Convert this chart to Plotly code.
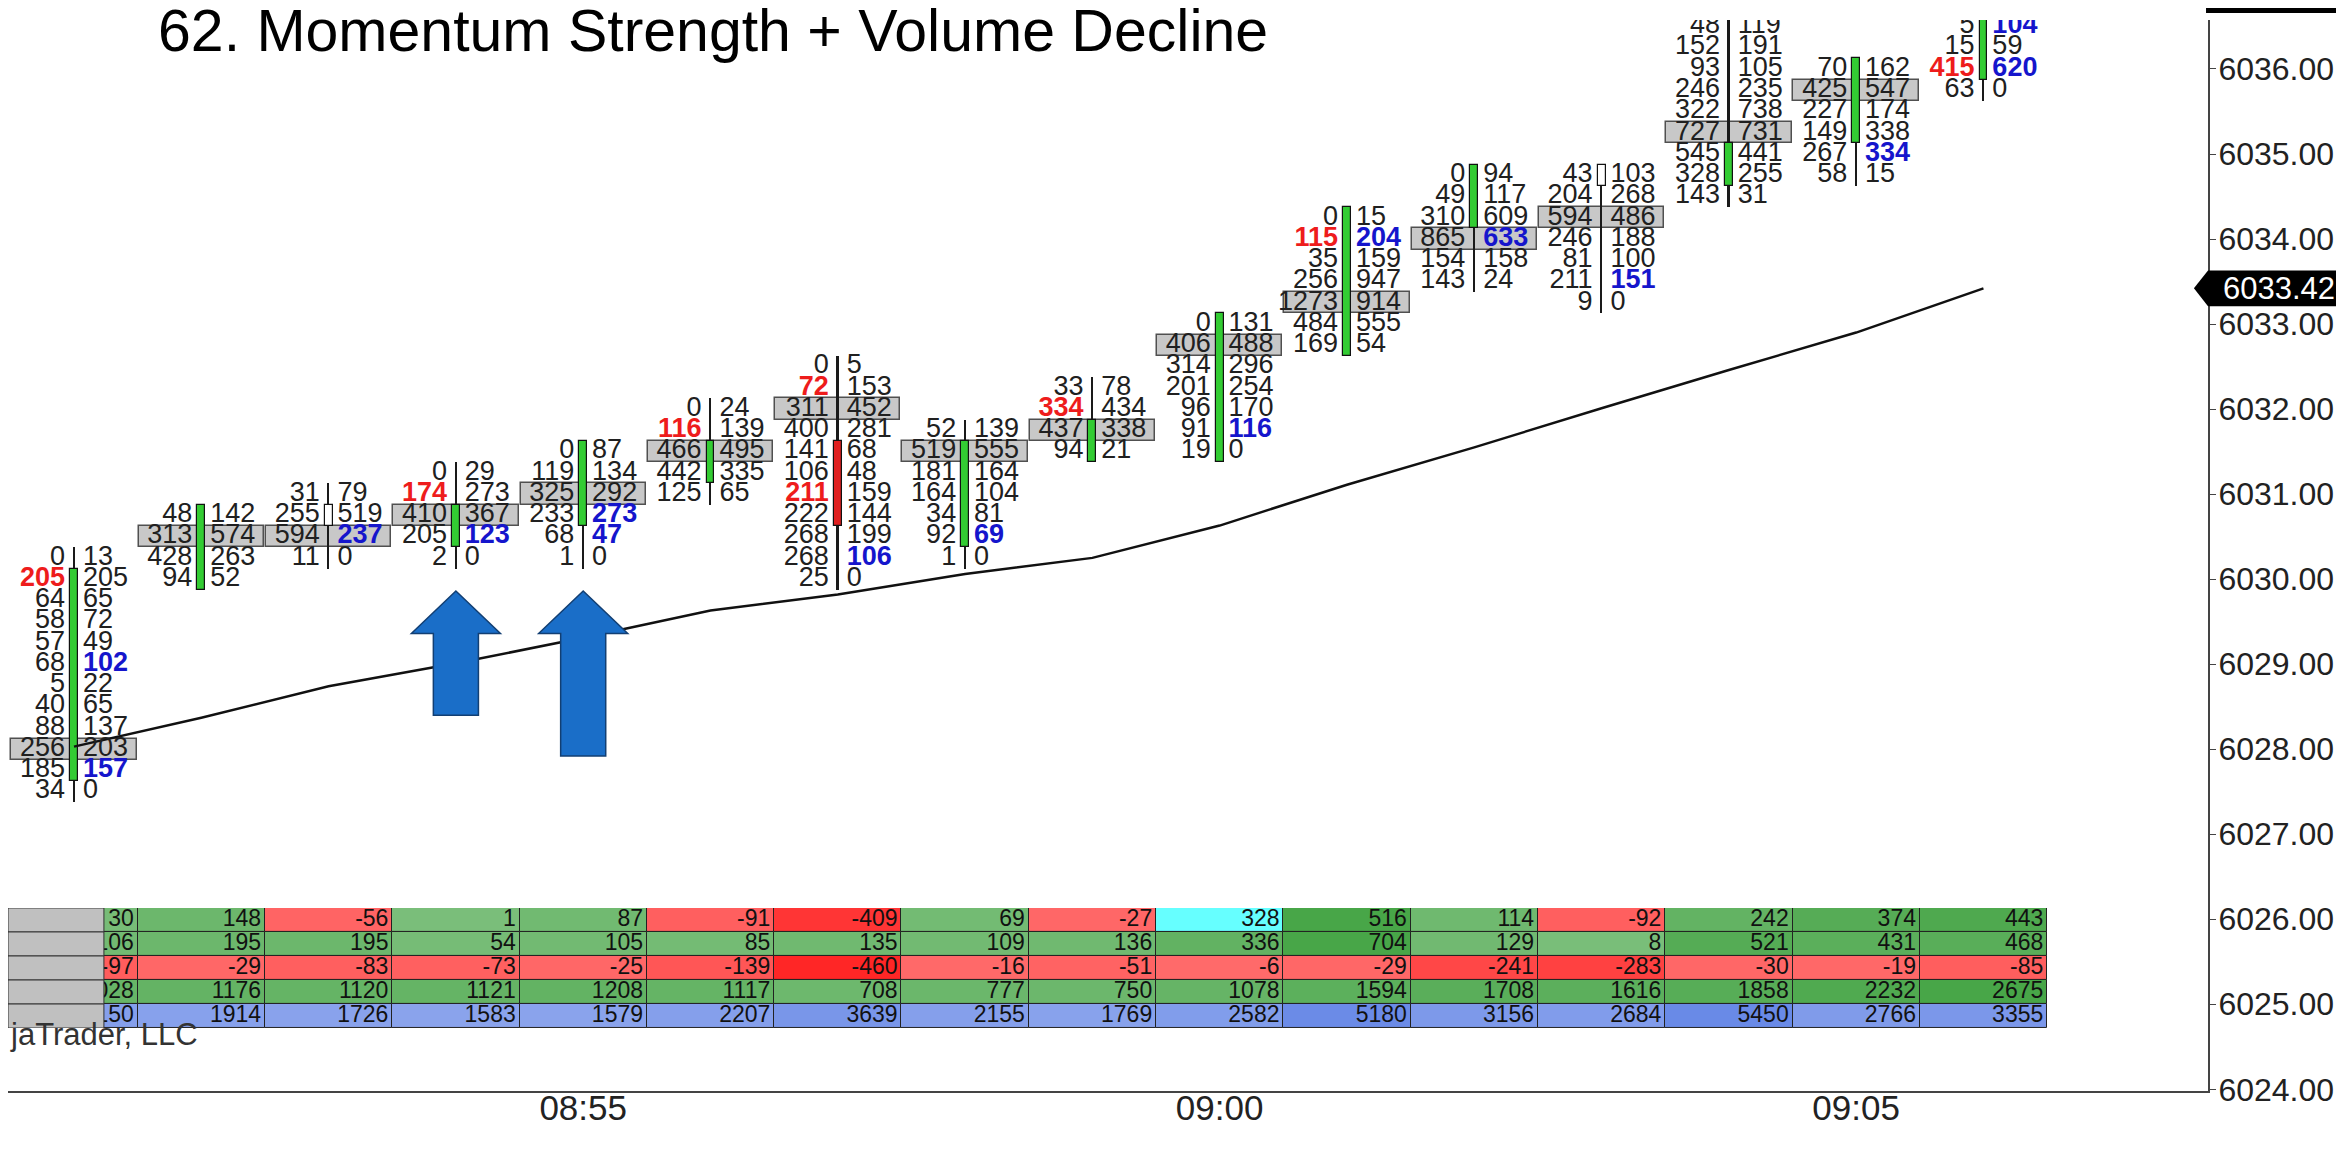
import plotly.graph_objects as go

TICK = 0.25
FONT = "Arial, Liberation Sans, sans-serif"

times = ["08:51", "08:52", "08:53", "08:54", "08:55", "08:56", "08:57", "08:58",
         "08:59", "09:00", "09:01", "09:02", "09:03", "09:04", "09:05", "09:06"]

# footprint: highest visible price row per bar, then bid / ask volume per row (top down)
top_price = [6030.25, 6030.75, 6031.00, 6031.25, 6031.50, 6032.00, 6032.50, 6031.75,
             6032.25, 6033.00, 6034.25, 6034.75, 6034.75, 6036.50, 6036.00, 6036.50]
bids = [
    [0, 205, 64, 58, 57, 68, 5, 40, 88, 256, 185, 34],
    [48, 313, 428, 94],
    [31, 255, 594, 11],
    [0, 174, 410, 205, 2],
    [0, 119, 325, 233, 68, 1],
    [0, 116, 466, 442, 125],
    [0, 72, 311, 400, 141, 106, 211, 222, 268, 268, 25],
    [52, 519, 181, 164, 34, 92, 1],
    [33, 334, 437, 94],
    [0, 406, 314, 201, 96, 91, 19],
    [0, 115, 35, 256, 1273, 484, 169],
    [0, 49, 310, 865, 154, 143],
    [43, 204, 594, 246, 81, 211, 9],
    [48, 152, 93, 246, 322, 727, 545, 328, 143],
    [70, 425, 227, 149, 267, 58],
    [5, 15, 415, 63],
]
asks = [
    [13, 205, 65, 72, 49, 102, 22, 65, 137, 203, 157, 0],
    [142, 574, 263, 52],
    [79, 519, 237, 0],
    [29, 273, 367, 123, 0],
    [87, 134, 292, 273, 47, 0],
    [24, 139, 495, 335, 65],
    [5, 153, 452, 281, 68, 48, 159, 144, 199, 106, 0],
    [139, 555, 164, 104, 81, 69, 0],
    [78, 434, 338, 21],
    [131, 488, 296, 254, 170, 116, 0],
    [15, 204, 159, 947, 914, 555, 54],
    [94, 117, 609, 633, 158, 24],
    [103, 268, 486, 188, 100, 151, 0],
    [119, 191, 105, 235, 738, 731, 441, 255, 31],
    [162, 547, 174, 338, 334, 15],
    [104, 59, 620, 0],
]
# row indexes flagged as imbalances
bid_imbalance = [[1], [], [], [1], [], [1], [1, 6], [], [1], [], [1], [], [], [], [], [2]]
ask_imbalance = [[5, 10], [], [2], [3], [3, 4], [], [9], [5], [], [5], [1], [3], [5], [], [4], [0, 2]]
poc_price = [6028.00, 6030.50, 6030.50, 6030.75, 6031.00, 6031.50, 6032.00, 6031.50,
             6031.75, 6032.75, 6033.25, 6034.00, 6034.25, 6035.25, 6035.75, None]
bar_open = [6027.75, 6030.00, 6030.75, 6030.50, 6030.75, 6031.25, 6031.50, 6030.50,
            6031.50, 6031.50, 6032.75, 6034.25, 6034.75, 6034.75, 6035.25, 6036.00]
bar_close = [6030.00, 6030.75, 6030.75, 6030.75, 6031.50, 6031.50, 6030.75, 6031.50,
             6031.75, 6033.00, 6034.25, 6034.75, 6034.75, 6035.00, 6036.00, 6036.75]

ema = [6028.03, 6028.37, 6028.74, 6029.01, 6029.31, 6029.63, 6029.82, 6030.06,
       6030.25, 6030.63, 6031.11, 6031.55, 6032.01, 6032.46, 6032.90, 6033.42]

# statistics table under the bars
bar_delta = [30, 148, -56, 1, 87, -91, -409, 69, -27, 328, 516, 114, -92, 242, 374, 443]
max_delta = [106, 195, 195, 54, 105, 85, 135, 109, 136, 336, 704, 129, 8, 521, 431, 468]
min_delta = [-97, -29, -83, -73, -25, -139, -460, -16, -51, -6, -29, -241, -283, -30, -19, -85]
cum_delta = [1028, 1176, 1120, 1121, 1208, 1117, 708, 777, 750, 1078, 1594, 1708, 1616,
             1858, 2232, 2675]
volume = [2150, 1914, 1726, 1583, 1579, 2207, 3639, 2155, 1769, 2582, 5180, 3156, 2684,
          5450, 2766, 3355]
highlight_cells = [(0, 9)]

arrow_bar = [3, 4]
arrow_tip = [6029.86, 6029.86]
arrow_bottom = [6028.40, 6027.92]

title = "62. Momentum Strength + Volume Decline"

idx = list(range(len(times)))


def shade(base, t):
    return "rgb(%d,%d,%d)" % tuple(round(255 - (255 - b) * t) for b in base)


fig = go.Figure()

# POC boxes
fig.add_trace(go.Bar(
    x=idx, base=[p - TICK / 2 if p else None for p in poc_price],
    y=[TICK if p else None for p in poc_price], width=0.985,
    marker=dict(color="#c8c8c8", line=dict(color="#505050", width=1.5)),
))

# wicks and bodies
lows, highs = [], []
for i in idx:
    lo = top_price[i] - TICK * (len(bids[i]) - 1)
    lows.append(min(lo, bar_open[i], bar_close[i]))
    highs.append(max(top_price[i], bar_open[i], bar_close[i]))
fig.add_trace(go.Bar(
    x=idx, base=[l - TICK / 2 for l in lows],
    y=[h - l + TICK for h, l in zip(highs, lows)], width=0.014,
    marker=dict(color="#1a1a1a", line=dict(width=0)),
))
body_colors = ["#33cc33" if c > o else "#e02020" if c < o else "#ffffff"
               for o, c in zip(bar_open, bar_close)]
fig.add_trace(go.Bar(
    x=idx, base=[min(o, c) - TICK / 2 for o, c in zip(bar_open, bar_close)],
    y=[abs(c - o) + TICK for o, c in zip(bar_open, bar_close)], width=0.062,
    marker=dict(color=body_colors, line=dict(color="#111111", width=1.2)),
))

fig.add_trace(go.Scatter(x=idx, y=ema, mode="lines", line=dict(color="#111111", width=2.5)))

# footprint numbers
for vals, flags, hot, pos, off in [
    (bids, bid_imbalance, "#ee1c1c", "middle left", -0.07),
    (asks, ask_imbalance, "#1515cc", "middle right", 0.07),
]:
    xs, ys, txt, cols = [], [], [], []
    for i in idx:
        for r, v in enumerate(vals[i]):
            xs.append(i + off)
            ys.append(top_price[i] - r * TICK)
            if r in flags[i]:
                txt.append(f"<b>{v}</b>")
                cols.append(hot)
            else:
                txt.append(str(v))
                cols.append("#202020")
    fig.add_trace(go.Scatter(
        x=xs, y=ys, mode="text", text=txt, textposition=pos,
        textfont=dict(family=FONT, size=27, color=cols), hoverinfo="skip",
    ))

# table
rows = [bar_delta, max_delta, min_delta, cum_delta, volume]
green, red, blue = (40, 150, 40), (255, 0, 0), (70, 110, 225)
for r, vals in enumerate(rows):
    top = max(abs(v) for v in vals)
    cols = []
    for i, v in enumerate(vals):
        t = abs(v) / top
        if (r, i) in highlight_cells:
            cols.append("rgb(102,255,255)")
        elif r == 4:
            cols.append(shade(blue, 0.56 + 0.25 * t))
        elif v >= 0:
            cols.append(shade(green, 0.62 + 0.23 * t))
        else:
            cols.append(shade(red, 0.58 + 0.27 * t))
    fig.add_trace(go.Bar(
        x=idx, y=[1] * len(vals), base=[r] * len(vals), width=1, yaxis="y2",
        marker=dict(color=cols, line=dict(color="#222222", width=1)),
    ))
    fig.add_trace(go.Scatter(
        x=[i + 0.47 for i in idx], y=[r + 0.5] * len(vals), yaxis="y2", mode="text",
        text=[str(v) for v in vals], textposition="middle left",
        textfont=dict(family=FONT, size=23, color="#111111"), hoverinfo="skip",
    ))

shapes = []
for r in range(len(rows)):
    shapes.append(dict(type="rect", xref="paper", yref="y2", x0=0, x1=0.0436, y0=r, y1=r + 1,
                       fillcolor="#c0c0c0", line=dict(color="#333333", width=1), layer="above"))

for b, tip, bottom in zip(arrow_bar, arrow_tip, arrow_bottom):
    neck = tip - 0.5
    path = (f"M {b - 0.35},{neck} L {b},{tip} L {b + 0.35},{neck} L {b + 0.177},{neck} "
            f"L {b + 0.177},{bottom} L {b - 0.177},{bottom} L {b - 0.177},{neck} Z")
    shapes.append(dict(type="path", xref="x", yref="y", path=path, fillcolor="#1a6ec8",
                       line=dict(color="#123f73", width=1.5), layer="above"))

# last value marker on the price axis
last = ema[-1]
shapes.append(dict(type="path", xref="paper", yref="y",
                   path=(f"M 0.9936,{last} L 1.0,{last + 0.21} L 1.0655,{last + 0.21} "
                         f"L 1.0655,{last - 0.21} L 1.0,{last - 0.21} Z"),
                   fillcolor="#000000", line=dict(width=0), layer="above"))
shapes.append(dict(type="rect", xref="paper", yref="paper", x0=0.9991, x1=1.0655,
                   y0=1.0065, y1=1.0112, fillcolor="#000000", line=dict(width=0)))

tick_idx = [i for i, t in enumerate(times) if int(t[-2:]) % 5 == 0]

fig.update_layout(
    width=2344, height=1161,
    margin=dict(l=0, r=144, t=12, b=78),
    paper_bgcolor="white", plot_bgcolor="white",
    showlegend=False, barmode="overlay", bargap=0,
    font=dict(family=FONT, color="#222222"),
    xaxis=dict(range=[-0.5185, 16.764], tickvals=tick_idx, ticktext=[times[i] for i in tick_idx],
               showgrid=False, zeroline=False, showline=True, linecolor="#444444", linewidth=2,
               ticks="", ticklabelstandoff=-15, tickfont=dict(size=35, color="#222222")),
    yaxis=dict(range=[6023.98, 6036.576], side="right", dtick=1, tick0=6024,
               tickformat=".2f", showgrid=False, zeroline=False, showline=True,
               linecolor="#444444", linewidth=2, ticks="outside", ticklen=6,
               ticklabelstandoff=-4, tickcolor="#444444",
               tickfont=dict(size=32, color="#222222")),
    yaxis2=dict(domain=[0.0588, 0.1709], range=[5, 0], visible=False, anchor="x",
                fixedrange=True),
    shapes=shapes,
    annotations=[
        dict(text=title, xref="paper", yref="paper", x=0.0673, y=0.9897, xanchor="left",
             yanchor="middle", showarrow=False, font=dict(size=59, color="#000000")),
        dict(text=f"{last:.2f}", xref="paper", yref="y", x=1.006, y=last, xanchor="left",
             yanchor="middle", showarrow=False, font=dict(size=31, color="#ffffff")),
        dict(text="jaTrader, LLC", xref="paper", yref="paper", x=0, y=0.0523, xanchor="left",
             yanchor="middle", showarrow=False, font=dict(size=31, color="#333333")),
    ],
)

fig.write_html("out.html")
